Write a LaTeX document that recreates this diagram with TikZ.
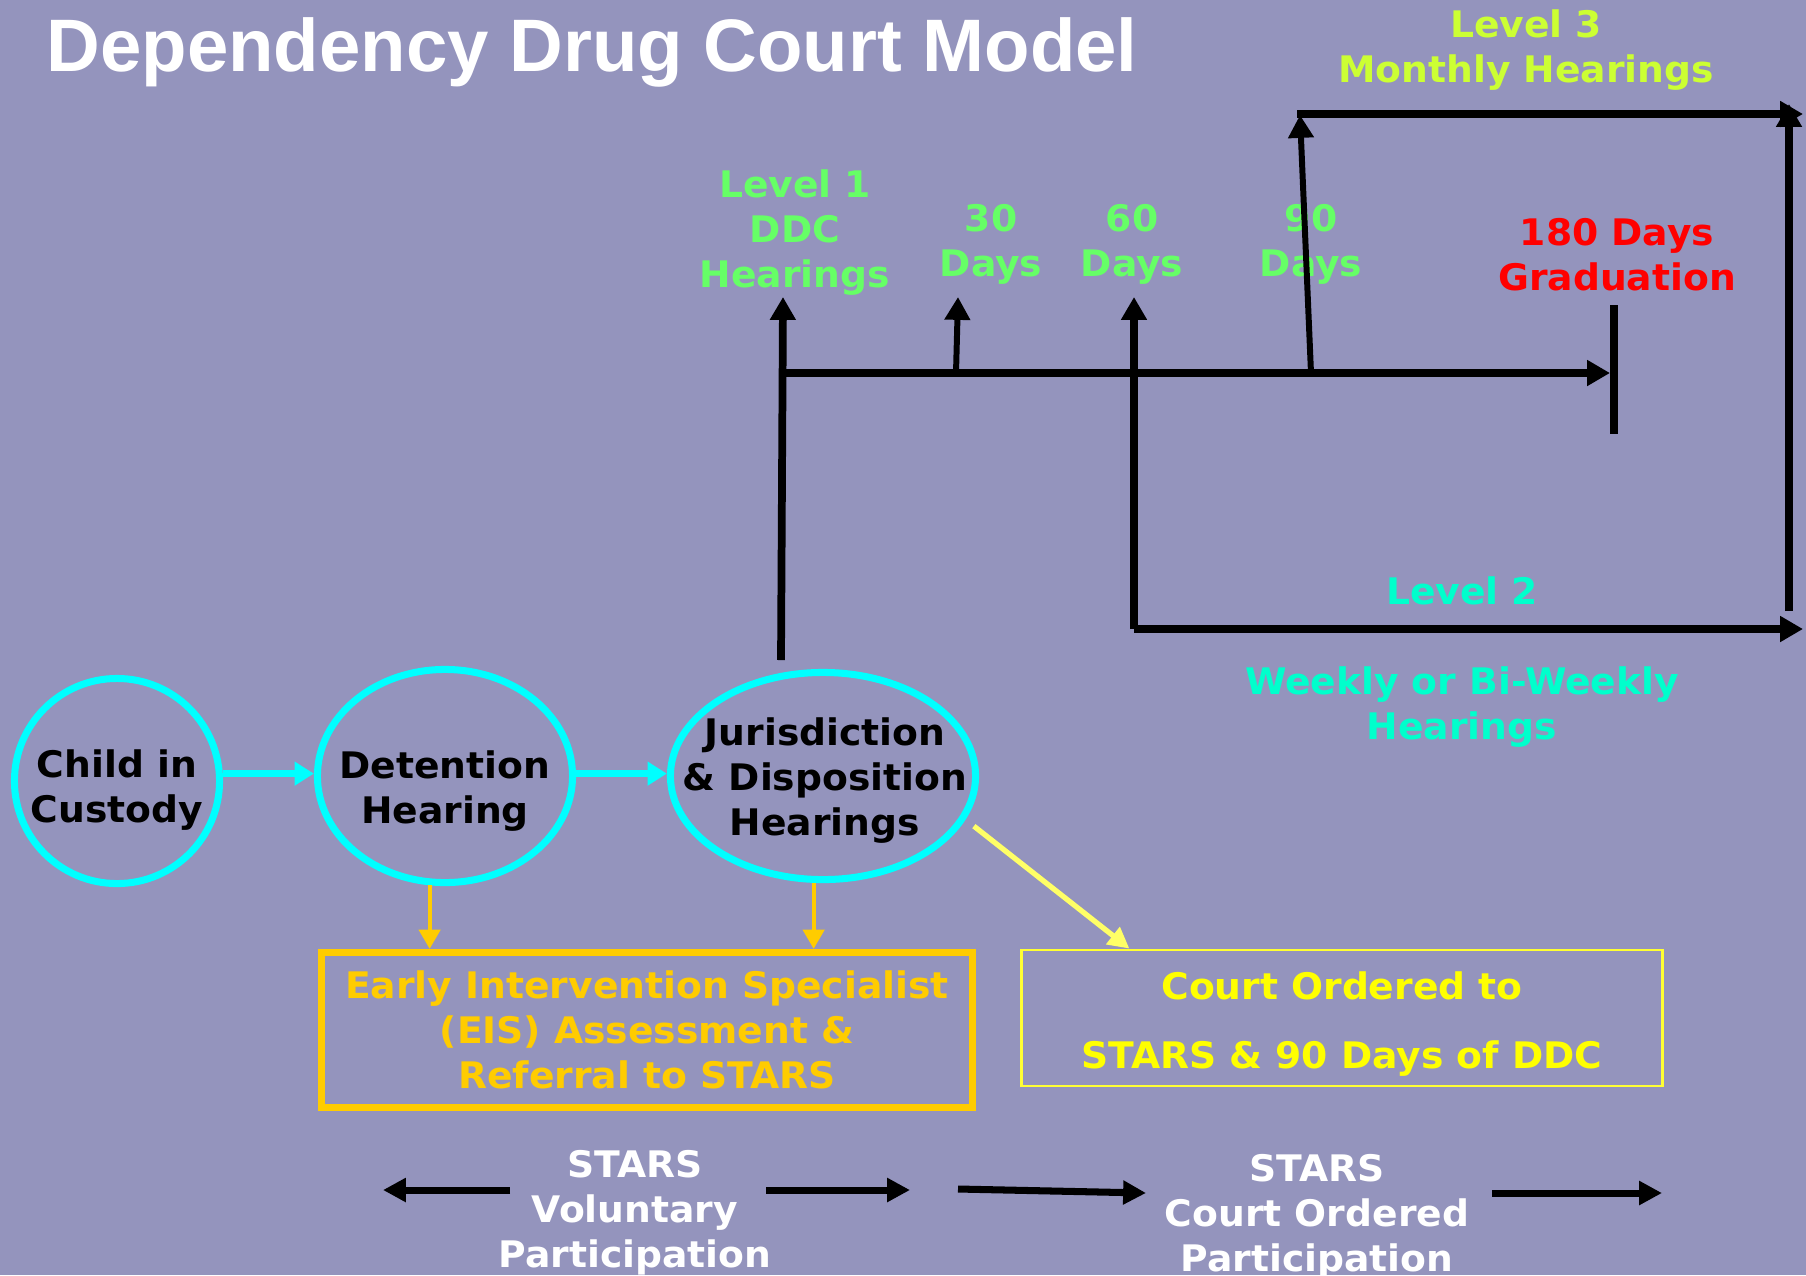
\documentclass[tikz,border=0pt]{standalone}
\usepackage{fontspec}
\setmainfont{DejaVu Sans}[FakeStretch=1.03]
\newfontfamily\titlefont{Liberation Sans}
\usetikzlibrary{shapes.geometric,arrows.meta,calc}

\definecolor{bgblue}{RGB}{148,148,189}
\definecolor{ringcyan}{RGB}{0,255,255}
\definecolor{lvlgreen}{RGB}{102,255,102}
\definecolor{lvlthree}{RGB}{204,255,51}
\definecolor{lvltwo}{RGB}{0,255,204}
\definecolor{eisorange}{RGB}{255,204,0}
\definecolor{courtyellow}{RGB}{255,255,51}
\definecolor{courttext}{RGB}{255,255,0}
\definecolor{arrowyellow}{RGB}{255,255,102}

\tikzset{
    lbl/.style={font=\bfseries\fontsize{10.4}{12.8}\selectfont, align=center, inner sep=0pt},
    stage/.style={ellipse, draw=ringcyan, line width=2pt, inner sep=0pt},
    flow/.style={draw=ringcyan, line width=2pt, -{Triangle[length=5.5pt,width=6.5pt]}},
    timeline/.style={line width=2.2pt, -{Triangle[length=6.5pt,width=7pt]}},
    tick/.style={line width=1.7pt, -{Triangle[length=6.5pt,width=7pt]}},
    eisarrow/.style={draw=eisorange, line width=1.2pt, -{Triangle[length=5.5pt,width=6pt]}},
    courtarrow/.style={draw=arrowyellow, line width=1.5pt, -{Triangle[length=6pt,width=6pt]}},
    phase/.style={line width=2pt, -{Triangle[length=6.5pt,width=6.5pt]}}
}

\begin{document}
\begin{tikzpicture}[x=0.01cm, y=-0.01cm]
    \useasboundingbox (0,0) rectangle (1806,1275);
    \fill[bgblue] (0,0) rectangle (1806,1275);

    \node[anchor=base west, inner sep=0pt, text=white,
          font=\titlefont\bfseries\fontsize{21.15}{25}\selectfont] (title) at (46,71) {Dependency Drug Court Model};

    % stages
    \node[stage, minimum width=2.05cm, minimum height=2.05cm] (child) at (117,781) {};
    \node[stage, minimum width=2.55cm, minimum height=2.13cm] (det) at (445,776) {};
    \node[stage, minimum width=3.05cm, minimum height=2.07cm] (jur) at (823,776) {};
    \node[lbl] (childtxt) at (117,790) {Child in\\Custody};
    \node[lbl] (dettxt) at (445,791) {Detention\\Hearing};
    \node[lbl] (jurtxt) at (825,781) {Jurisdiction\\\& Disposition\\Hearings};

    \draw[flow] (child.4) -- (det.west |- child.4);
    \draw[flow] (det.east |- child.4) -- (jur.west |- child.4);

    % boxes
    \node[lbl, draw=eisorange, line width=2pt, text=eisorange, minimum width=6.51cm, minimum height=1.55cm]
        (eis) at (647,1030) {Early Intervention Specialist\\(EIS) Assessment \&\\Referral to STARS};
    \node[lbl, draw=courtyellow, line width=0.8pt, text=courttext, minimum width=6.4cm, minimum height=1.36cm]
        (court) at (1342,1018) {\rule{0pt}{11.3pt}Court Ordered to\\[7pt]STARS \& 90 Days of DDC};

    \draw[eisarrow] (det.262) -- (det.262 |- eis.north);
    \draw[eisarrow] (jur.265) -- (jur.265 |- eis.north);
    \draw[courtarrow, shorten <=3pt] (jur.-17) -- ($(court.north west)+(109,0)$);

    % hearing labels
    \node[lbl, text=lvlgreen] (lvl1) at (795,233) {Level 1\\DDC\\Hearings};
    \foreach \x/\d in {991/30, 1132/60, 1311/90}
        \node[lbl, text=lvlgreen] (d\d) at (\x,244) {\d\\Days};
    \node[lbl, text=red] (grad) at (1617,255) {180 Days\\Graduation};
    \node[lbl, text=lvlthree] (lvl3) at (1526,50) {Level 3\\Monthly Hearings};
    \node[lbl, text=lvltwo] (lvl2) at (1462,591) {Level 2};
    \node[lbl, text=lvltwo] (weekly) at (1462,707) {Weekly or Bi-Weekly\\Hearings};

    % time line
    \coordinate (l1foot) at (781,660);
    \coordinate (l1top) at (783,297);
    \coordinate (t0) at (783,373);
    \coordinate (t180) at (1610,373);
    \coordinate (d30foot) at (956,373);
    \coordinate (d30top) at (958,297);
    \coordinate (l2start) at (1134,629);
    \coordinate (d60top) at (1134,297);
    \coordinate (l2end) at (1803,629);
    \coordinate (d90foot) at (1311,373);
    \coordinate (d90top) at (1300,115);
    \coordinate (l3start) at (1297,114);
    \coordinate (l3end) at (1803,114);
    \coordinate (rfoot) at (1789,611);
    \coordinate (rtop) at (1789,104);
    \coordinate (gradtop) at (1614,305);
    \coordinate (gradfoot) at (1614,434);

    \draw[timeline] (l1foot) -- (l1top);
    \draw[timeline] (t0) -- (t180);
    \draw[tick] (d30foot) -- (d30top);
    \draw[timeline] (l2start) -- (d60top);
    \draw[timeline] (l2start) -- (l2end);
    \draw[tick] (d90foot) -- (d90top);
    \draw[timeline] (l3start) -- (l3end);
    \draw[timeline] (rfoot) -- (rtop);
    \draw[line width=2.2pt] (gradtop) -- (gradfoot);

    % participation
    \node[lbl, text=white] (vol) at (635,1213) {STARS\\Voluntary\\Participation};
    \node[lbl, text=white] (ord) at (1317,1217) {STARS\\Court Ordered\\Participation};

    \coordinate (va) at (510,1190);
    \coordinate (vb) at (383,1190);
    \coordinate (vc) at (766,1190);
    \coordinate (vd) at (910,1190);
    \coordinate (oa) at (958,1189);
    \coordinate (ob) at (1146,1193);
    \coordinate (oc) at (1492,1193);
    \coordinate (od) at (1662,1193);
    \draw[phase] (va) -- (vb);
    \draw[phase] (vc) -- (vd);
    \draw[phase] (oa) -- (ob);
    \draw[phase] (oc) -- (od);
\end{tikzpicture}
\end{document}
